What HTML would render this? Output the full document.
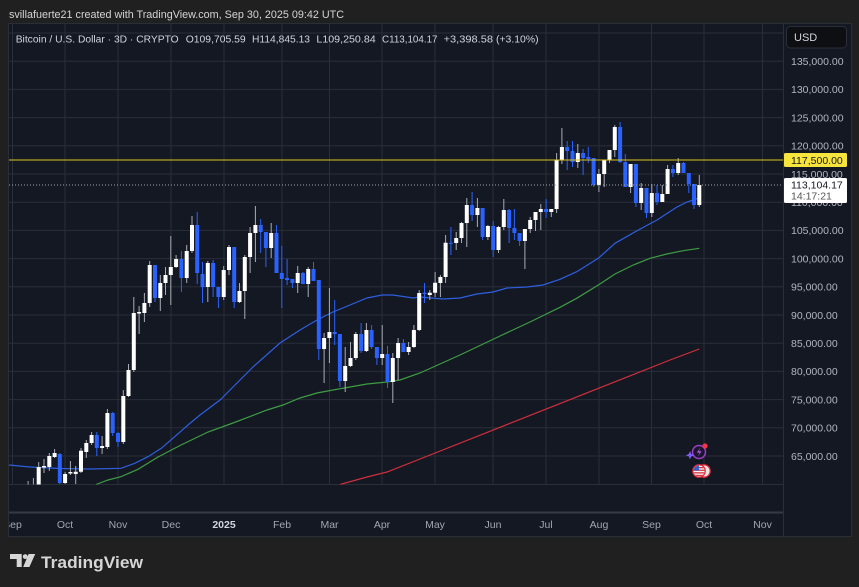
<!DOCTYPE html>
<html><head><meta charset="utf-8">
<style>
html,body{margin:0;padding:0;background:#202020;}
svg{display:block;}
text{font-family:"Liberation Sans",Arial,sans-serif;}
</style></head>
<body>
<svg width="859" height="587" viewBox="0 0 859 587" xmlns="http://www.w3.org/2000/svg">
<defs>
<clipPath id="pane"><rect x="9" y="24" width="774" height="460.5"/></clipPath>
<clipPath id="taxis"><rect x="9" y="513" width="774" height="23"/></clipPath>
<clipPath id="flagc1"><circle cx="699" cy="471" r="5.5"/></clipPath>
</defs>
<rect x="0" y="0" width="859" height="587" fill="#202020"/>
<text x="9" y="18" font-size="11" fill="#d4d4d4" textLength="335" lengthAdjust="spacingAndGlyphs">svillafuerte21 created with TradingView.com, Sep 30, 2025 09:42 UTC</text>

<!-- panel -->
<rect x="8.5" y="23.5" width="843" height="513" fill="#141823" stroke="#2a2e39"/>

<!-- horizontal grid -->
<g stroke="#2a2e39" stroke-width="1">
<path d="M9 33H783M9 61.2H783M9 89.4H783M9 117.6H783M9 145.8H783M9 174H783M9 202.2H783M9 230.4H783M9 258.6H783M9 286.8H783M9 315H783M9 343.2H783M9 371.4H783M9 399.6H783M9 427.8H783M9 456H783M9 484.5H783"/>
<path d="M12.5 24V484M65 24V484M118 24V484M171 24V484M224 24V484M282 24V484M329.5 24V484M382 24V484M435 24V484M493 24V484M546 24V484M599 24V484M651.5 24V484M704 24V484M762.5 24V484"/>
<path d="M783.5 24V536"/>
</g>
<rect x="9" y="511.5" width="774" height="2" fill="#363a45"/>

<g clip-path="url(#pane)">
<!-- MAs -->
<polyline fill="none" stroke="#d12f3c" stroke-width="1.2" points="340,484.5 367,477 387,472 420,459 500,427.3 560,403.6 620,379.8 670,360 699.3,349"/>
<polyline fill="none" stroke="#3f9c44" stroke-width="1.2" points="96,484.5 108,480 121,476.7 138,469.3 158,457 181,445 208,432 233,423 267,410 283,405 300,398 317,393 333,390 350,387 367,384 387,382 400,380 420,373 460,355 500,336 530,322 560,307.3 576.7,298.3 598.3,285 615,274 633.3,265 650,258.3 666.7,254 683.3,250.7 699.3,248.3"/>
<polyline fill="none" stroke="#2d5fe0" stroke-width="1.2" points="9,465 30,467 60,468.5 90,469 121,468.3 134.7,463.3 148,456.7 161.3,448.3 174.7,436.7 188,425 200,415 220,400 233,387 253,367 280,343 300,330 317,320 333,312 350,305 367,298 382,295 393,295 413,298 420,297 443,299 460,298 477,294 493,292 507,288 527,287 543,285 560,279.3 576.7,271.7 598.3,258.3 615,243.3 638.3,230 657,220 677,207 687,202 699,198"/>

<!-- up wicks -->
<path fill="none" stroke="#a9acb4" stroke-width="1" d="M28.1 481V505M33.4 478V510M38.7 462V495M44 459V473M49.3 453V471M54.6 449V458M65.1 472V484M70.4 461V475M75.7 466V484M81 448V473M86.3 440V458M91.6 432V445M102.1 436V454M107.4 409V449M123.3 390V444M128.5 364V397M133.8 297V372M139.1 306V334M144.4 293V322M149.7 261V307M160.3 275V311M165.5 267V295M170.8 236V305M176.1 255V268M186.7 245V283M192 216V253M207.8 261V302M223.7 266V300M229 245V275M239.5 283V303M244.8 255V319M250.1 227V273M255.4 206V262M271.2 223V258M297.7 266V293M308.2 267V297M324.1 333V383M329.4 288V363M345.2 347V392M350.5 342V367M355.8 332V360M366.4 323V352M382.2 325V365M392.8 353V403M398.1 338V380M408.6 342V355M413.9 325V348M419.2 290V331M429.8 290V300M435.1 272V297M440.4 275V297M445.6 235V283M456.2 232V250M461.5 222V243M466.8 198V247M477.4 198V227M487.9 225V240M498.5 226V253M503.8 199V230M524.9 229V269M530.2 217V233M535.5 212V231M540.8 204V230M551.3 209V217M556.6 153V213M561.9 128V164M577.8 144V168M598.9 169V192M604.2 160V187M609.5 150V163M614.8 125V157M630.6 164V193M641.2 183V210M651.8 184V217M662.3 185V202M667.6 165V194M678.2 158V175M699.3 175V207"/>
<!-- down wicks -->
<path fill="none" stroke="#2962ff" stroke-width="1" d="M59.8 453V484M96.8 432V456M112.7 412V436M118 432V447M155 265V302M181.4 251V292M197.2 212V284M202.5 262V303M213.1 260V297M218.4 287V308M234.2 247V308M260.7 219V253M265.9 232V267M276.5 225V273M281.8 246V308M287.1 259V285M292.4 279V288M302.9 272V284M313.5 262V281M318.8 280V360M334.7 300V345M339.9 334V387M361.1 323V353M371.6 325V349M376.9 347V365M387.5 346V388M403.4 339V352M424.5 283V303M450.9 227V255M472.1 192V221M482.6 208V240M493.2 221V257M509.1 209V243M514.4 209V240M519.6 233V246M546.1 199V218M567.2 141V170M572.5 141V167M583.1 149V175M588.3 147V163M593.6 158V187M620.1 122V163M625.3 154V187M635.9 164V207M646.5 188V218M657 185V205M672.9 165V177M683.5 162V173M688.8 173V193M694 184V209"/>
<!-- up bodies -->
<path fill="#ffffff" d="M26.1 486h4V500h-4zM31.4 487h4V505h-4zM36.7 467h4V490h-4zM42 466h4V467.5h-4zM47.3 456h4V467h-4zM52.6 453h4V457h-4zM63.1 474h4V483h-4zM68.4 472h4V473.5h-4zM73.7 471.7h4V474h-4zM79 450.7h4V471.7h-4zM84.3 443h4V452h-4zM89.6 435h4V443h-4zM100.1 446h4V448h-4zM105.4 413h4V447h-4zM121.3 396h4V442h-4zM126.5 370h4V396h-4zM131.8 313h4V370h-4zM137.1 312h4V313.5h-4zM142.4 303h4V313h-4zM147.7 265h4V303h-4zM158.3 283h4V298h-4zM163.5 275h4V283h-4zM168.8 267h4V275h-4zM174.1 259h4V267h-4zM184.7 251h4V278h-4zM190 225h4V251h-4zM205.8 263h4V287h-4zM221.7 270h4V297h-4zM227 247h4V270h-4zM237.5 291h4V302h-4zM242.8 257h4V291h-4zM248.1 233h4V257h-4zM253.4 225h4V233h-4zM269.2 233h4V248h-4zM295.7 273h4V283h-4zM306.2 269h4V284h-4zM322.1 338h4V349h-4zM327.4 332h4V338h-4zM343.2 366h4V381h-4zM348.5 358h4V366h-4zM353.8 334h4V358h-4zM364.4 330h4V351h-4zM380.2 354h4V358h-4zM390.8 358h4V382h-4zM396.1 343h4V358h-4zM406.6 347h4V352h-4zM411.9 330h4V347h-4zM417.2 293h4V330h-4zM427.8 292.7h4V295h-4zM433.1 282.7h4V292.7h-4zM438.4 277h4V283h-4zM443.6 242.7h4V277h-4zM454.2 238h4V243h-4zM459.5 223h4V238h-4zM464.8 205h4V223h-4zM475.4 208h4V215h-4zM485.9 226h4V237h-4zM496.5 227h4V250h-4zM501.8 210h4V227h-4zM522.9 229h4V241h-4zM528.2 220h4V229h-4zM533.5 212h4V220h-4zM538.8 209h4V212h-4zM549.3 209h4V212h-4zM554.6 160h4V209h-4zM559.9 147h4V160h-4zM575.8 153h4V162h-4zM596.9 174h4V185h-4zM602.2 160h4V174h-4zM607.5 150h4V160h-4zM612.8 127h4V150h-4zM628.6 164h4V187h-4zM639.2 188h4V203h-4zM649.8 193h4V213h-4zM660.3 194h4V202h-4zM665.6 169h4V194h-4zM676.2 163h4V173h-4zM697.3 185h4V205h-4z"/>
<!-- down bodies -->
<path fill="#2962ff" d="M57.8 454h4V483h-4zM94.8 435h4V448h-4zM110.7 413h4V433h-4zM116 433h4V442h-4zM153 265h4V298h-4zM179.4 259h4V278h-4zM195.2 225h4V273h-4zM200.5 274h4V287h-4zM211.1 263h4V287h-4zM216.4 287h4V297h-4zM232.2 247h4V302h-4zM258.7 225h4V232h-4zM263.9 232h4V248h-4zM274.5 233h4V273h-4zM279.8 273h4V279h-4zM285.1 278h4V280h-4zM290.4 279h4V283h-4zM300.9 273h4V284h-4zM311.5 269h4V281h-4zM316.8 280h4V349h-4zM332.7 332h4V334h-4zM337.9 334h4V381h-4zM359.1 334h4V351h-4zM369.6 330h4V347h-4zM374.9 347h4V358h-4zM385.5 354h4V382h-4zM401.4 343h4V352h-4zM422.5 292.7h4V294h-4zM448.9 242.7h4V243.7h-4zM470.1 205h4V215h-4zM480.6 208h4V237h-4zM491.2 226h4V250h-4zM507.1 210h4V228h-4zM512.4 228h4V233h-4zM517.6 233h4V241h-4zM544.1 209h4V212h-4zM565.2 147h4V151h-4zM570.5 151h4V162h-4zM581.1 153h4V158h-4zM586.3 157h4V159h-4zM591.6 158h4V185h-4zM618.1 127h4V162h-4zM623.3 162h4V187h-4zM633.9 164h4V203h-4zM644.5 188h4V213h-4zM655 193h4V202h-4zM670.9 169h4V173h-4zM681.5 163h4V173h-4zM686.8 173h4V184h-4zM692 184h4V205h-4z"/>

<!-- level lines -->
<path d="M9 160H783" stroke="#dcc21e" stroke-width="1"/>
<path d="M9 185H783" stroke="#a0a3ab" stroke-width="1" stroke-dasharray="1 2"/>

<!-- event icons -->
<circle cx="699" cy="452" r="6.5" fill="#1c1530" stroke="#9c3fc4" stroke-width="1.5"/>
<path d="M700.5 447.5L696.8 452.6H699.6L697.8 456.6L701.6 451.2H698.9Z" fill="#b65ae0"/>
<circle cx="705" cy="446" r="2.6" fill="#f23645"/>
<path d="M690 451l1.2 3 3 1.2-3 1.2-1.2 3-1.2-3-3-1.2 3-1.2z" fill="#7c5cff"/>
<circle cx="704" cy="471" r="6.2" fill="#e8e8e8" stroke="#e02a3a" stroke-width="1.3"/>
<circle cx="699" cy="471" r="6.2" fill="#f4f4f4" stroke="#e02a3a" stroke-width="1.3"/>
<g clip-path="url(#flagc1)">
<rect x="693" y="466" width="12" height="11" fill="#f4f4f4"/>
<rect x="693" y="467" width="12" height="1.3" fill="#d8333f"/>
<rect x="693" y="469.6" width="12" height="1.3" fill="#d8333f"/>
<rect x="693" y="472.2" width="12" height="1.3" fill="#d8333f"/>
<rect x="693" y="474.8" width="12" height="1.3" fill="#d8333f"/>
<rect x="693" y="465" width="6" height="5.5" fill="#3b5fc0"/>
</g>
</g>

<!-- legend -->
<g font-size="10.5" fill="#d1d4dc">
<text x="15.7" y="42.4" textLength="163" lengthAdjust="spacingAndGlyphs">Bitcoin / U.S. Dollar · 3D · CRYPTO</text>
<text x="185.7" y="42.4" textLength="60" lengthAdjust="spacingAndGlyphs">O109,705.59</text>
<text x="252" y="42.4" textLength="58" lengthAdjust="spacingAndGlyphs">H114,845.13</text>
<text x="316.4" y="42.4" textLength="59.3" lengthAdjust="spacingAndGlyphs">L109,250.84</text>
<text x="382" y="42.4" textLength="55.5" lengthAdjust="spacingAndGlyphs">C113,104.17</text>
<text x="443.6" y="42.4" textLength="49.4" lengthAdjust="spacingAndGlyphs">+3,398.58</text>
<text x="496" y="42.4" textLength="42.6" lengthAdjust="spacingAndGlyphs">(+3.10%)</text>
</g>

<!-- price axis -->
<rect x="786.5" y="26.5" width="60" height="21.5" rx="4" fill="#0e0f13" stroke="#2a2e39"/>
<text x="794" y="41" font-size="11" fill="#d1d4dc">USD</text>
<g font-size="10.5" fill="#b2b5be">
<text x="791" y="65">135,000.00</text>
<text x="791" y="93.2">130,000.00</text>
<text x="791" y="121.4">125,000.00</text>
<text x="791" y="149.6">120,000.00</text>
<text x="791" y="177.8">115,000.00</text>
<text x="791" y="206">110,000.00</text>
<text x="791" y="234.2">105,000.00</text>
<text x="791" y="262.4">100,000.00</text>
<text x="791" y="290.6">95,000.00</text>
<text x="791" y="318.8">90,000.00</text>
<text x="791" y="347">85,000.00</text>
<text x="791" y="375.2">80,000.00</text>
<text x="791" y="403.4">75,000.00</text>
<text x="791" y="431.6">70,000.00</text>
<text x="791" y="459.8">65,000.00</text>
</g>
<rect x="784" y="153" width="63" height="14" rx="1.5" fill="#f7e43c"/>
<text x="791" y="164" font-size="10.5" fill="#131722">117,500.00</text>
<rect x="784" y="178" width="63" height="25" rx="1.5" fill="#ffffff"/>
<text x="791" y="188.5" font-size="10.5" fill="#131722">113,104.17</text>
<text x="791" y="199.5" font-size="10.5" fill="#555555">14:17:21</text>

<!-- time axis -->
<g font-size="10.5" fill="#a3a6af" text-anchor="middle" clip-path="url(#taxis)">
<text x="12.5" y="528">Sep</text>
<text x="65" y="528">Oct</text>
<text x="118" y="528">Nov</text>
<text x="171" y="528">Dec</text>
<text x="224" y="528" font-weight="bold" fill="#d1d4dc">2025</text>
<text x="282" y="528">Feb</text>
<text x="329.5" y="528">Mar</text>
<text x="382" y="528">Apr</text>
<text x="435" y="528">May</text>
<text x="493" y="528">Jun</text>
<text x="546" y="528">Jul</text>
<text x="599" y="528">Aug</text>
<text x="651.5" y="528">Sep</text>
<text x="704" y="528">Oct</text>
<text x="762.5" y="528">Nov</text>
</g>

<!-- logo -->
<g fill="#d6d6d6">
<path d="M10 554H21.7V567H16.7V559H10Z"/>
<circle cx="25.2" cy="556.6" r="2.4"/>
<path d="M28.6 554H35.2L29.4 567H23.2Z"/>
</g>
<text x="41" y="568" font-size="17" font-weight="bold" fill="#d6d6d6" textLength="102" lengthAdjust="spacingAndGlyphs">TradingView</text>
</svg>
</body></html>
